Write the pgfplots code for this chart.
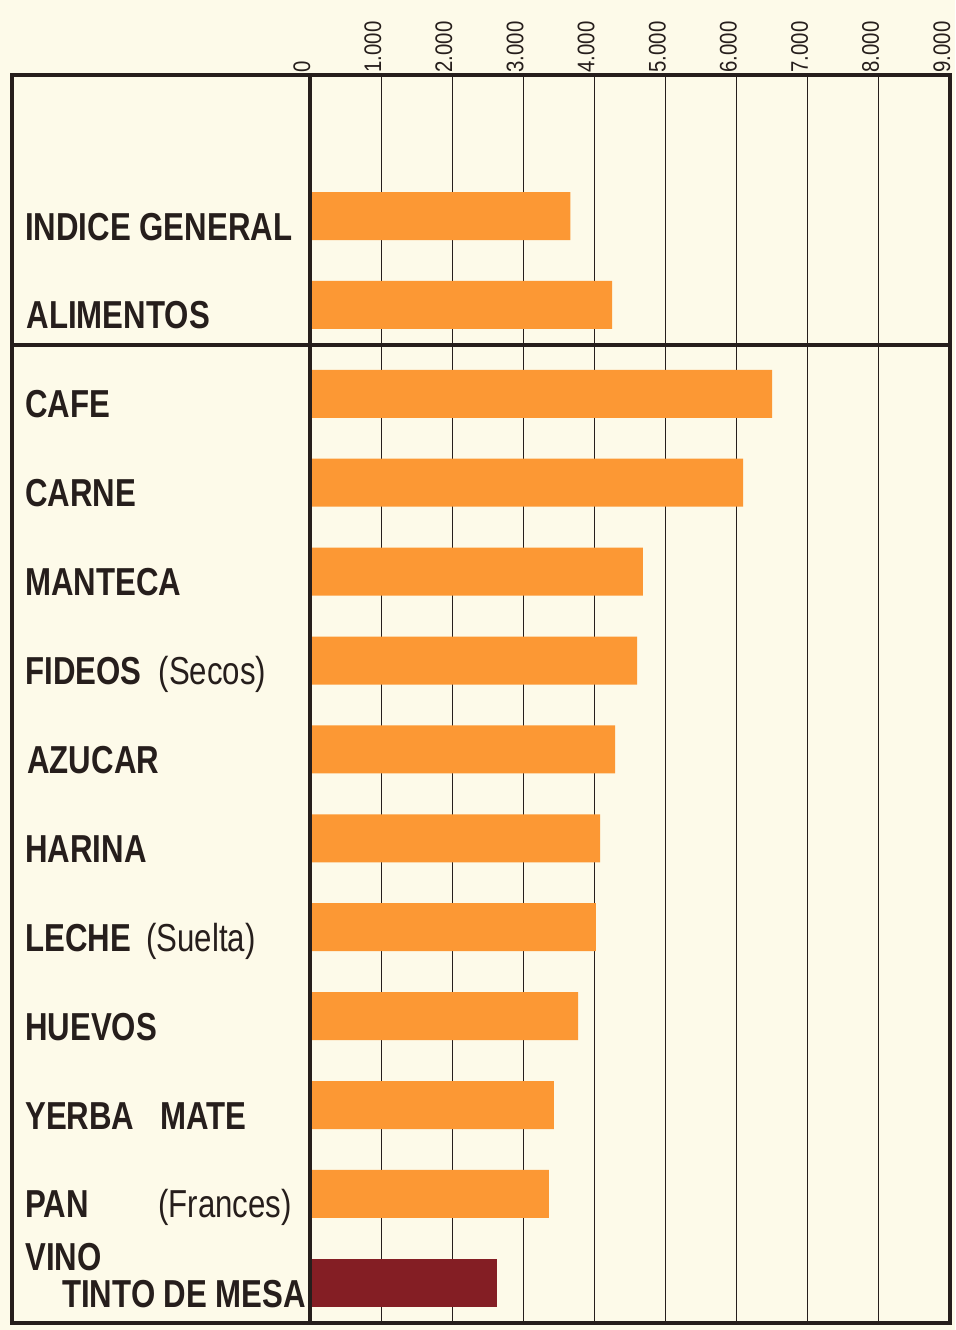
\documentclass[border=0pt]{standalone}
\usepackage{pgfplots}
\pgfplotsset{compat=1.18}
\usepackage{fontspec}
\setmainfont{Liberation Sans}
\newfontfamily\labfontfam[FakeStretch=0.80]{Liberation Sans}
\newfontfamily\tickfontfam[FakeStretch=0.85]{Liberation Sans}
\newcommand{\lab}{\labfontfam\bfseries\fontsize{19.5}{22}\selectfont}
\newcommand{\labl}{\labfontfam\mdseries\fontsize{19.5}{22}\selectfont}
\newcommand{\tickfont}{\tickfontfam\fontsize{12}{14}\selectfont}
\definecolor{bg}{RGB}{253,250,233}
\definecolor{barorange}{RGB}{252,152,52}
\definecolor{vino}{RGB}{132,30,36}
\definecolor{ink}{RGB}{38,30,28}
\begin{document}
\begin{tikzpicture}
\path[use as bounding box, fill=bg] (0,0) rectangle (477.5pt,665pt);
\begin{axis}[
  at={(6pt,3.5pt)}, anchor=south west,
  scale only axis, width=469pt, height=624pt,
  xmin=-4191, xmax=9000,
  ymin=-1.586, ymax=12.452, y dir=reverse,
  ytick=\empty,
  xtick={0,1000,2000,3000,4000,5000,6000,7000,8000,9000},
  xticklabels={0,1.000,2.000,3.000,4.000,5.000,6.000,7.000,8.000,9.000},
  xticklabel pos=upper,
  xticklabel style={rotate=90, anchor=base west, font=\tickfont, text=ink, inner sep=1pt},
  major tick length=0pt,
  xmajorgrids, grid style={ink, line width=0.6pt},
  axis line style={ink, line width=1.6pt},
  clip=false,
]
\addplot[xbar, bar width=0.54, bar shift=0pt, fill=barorange, draw=none] coordinates {
 (3660,0) (4250,1) (6500,2) (6090,3) (4680,4) (4600,5) (4290,6) (4080,7) (4020,8) (3770,9) (3430,10) (3360,11)};
\addplot[xbar, bar width=0.54, bar shift=0pt, fill=vino, draw=none] coordinates {(2630,12)};
\draw[ink, line width=1.6pt] (axis cs:0,-1.586) -- (axis cs:0,12.452);
\draw[ink, line width=1.6pt] (axis cs:-4191,1.45) -- (axis cs:9000,1.45);
\begin{scope}[every node/.style={anchor=base west, inner sep=0pt, text=ink}]
\node at (axis cs:-4010,0.27) {\lab INDICE GENERAL};
\node at (axis cs:-3990,1.27) {\lab ALIMENTOS};
\node at (axis cs:-4010,2.27) {\lab CAFE};
\node at (axis cs:-4010,3.27) {\lab CARNE};
\node at (axis cs:-4010,4.27) {\lab MANTECA};
\node at (axis cs:-4010,5.27) {\lab FIDEOS \ \labl(Secos)};
\node at (axis cs:-3980,6.27) {\lab AZUCAR};
\node at (axis cs:-4010,7.27) {\lab HARINA};
\node at (axis cs:-4010,8.27) {\lab LECHE \,\labl(Suelta)};
\node at (axis cs:-4010,9.27) {\lab HUEVOS};
\node at (axis cs:-4010,10.27) {\lab YERBA \ \ MATE};
\node at (axis cs:-4010,11.27) {\lab PAN};
\node at (axis cs:-2140,11.27) {\labl(Frances)};
\node at (axis cs:-4010,11.86) {\lab VINO};
\node at (axis cs:-3490,12.28) {\lab TINTO DE MESA};
\end{scope}
\end{axis}
\end{tikzpicture}
\end{document}
